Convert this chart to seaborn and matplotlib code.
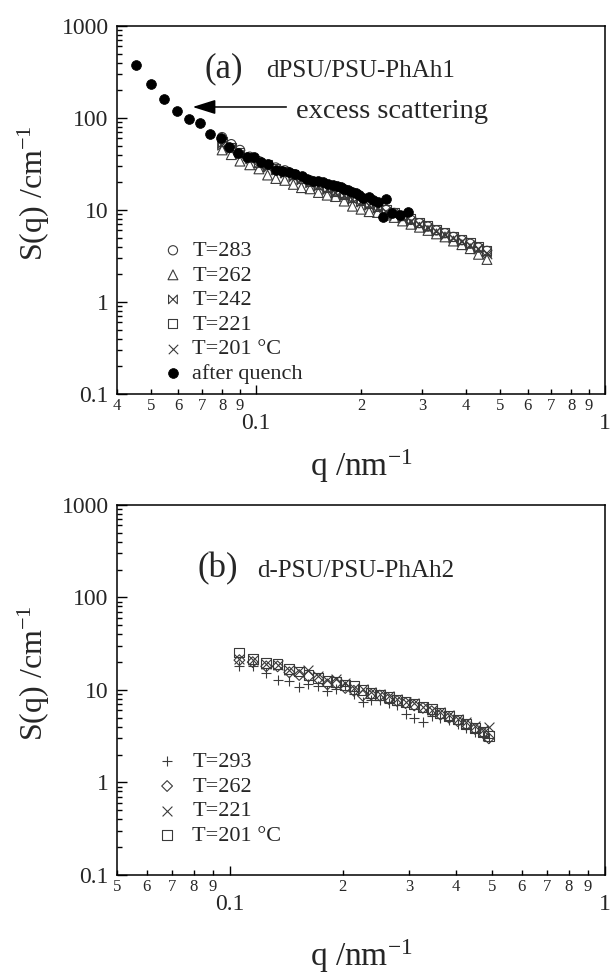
import numpy as np
import pandas as pd
import matplotlib
matplotlib.use("Agg")
import matplotlib.pyplot as plt
from matplotlib.path import Path
from matplotlib.ticker import FixedLocator, FixedFormatter, NullFormatter
import seaborn as sns

# ---------------- data: panel (a) ----------------
qa = [0.080, 0.085, 0.090, 0.096, 0.102, 0.108, 0.114, 0.121, 0.128, 0.135, 0.143,
      0.151, 0.160, 0.169, 0.179, 0.189, 0.200, 0.211, 0.223, 0.236, 0.249, 0.263,
      0.278, 0.294, 0.311, 0.329, 0.348, 0.368, 0.389, 0.411, 0.434, 0.459]
s283 = [62, 52, 45, 38, 34, 31, 29, 27, 24.5, 22, 21, 19, 17.5, 16.2, 15, 13.8, 12.8,
        11.8, 11, 10, 9.3, 8.6, 7.8, 7.2, 6.6, 6.0, 5.6, 5.1, 4.7, 4.3, 3.9, 3.6]
s262 = [45, 40, 34, 31, 28, 24, 22, 21, 19, 17.5, 17, 15.5, 14.5, 14, 12.5, 11, 10.2,
        9.6, 9.4, 8.8, 8.3, 7.6, 7.0, 6.5, 6.0, 5.5, 5.1, 4.6, 4.2, 3.8, 3.3, 2.9]
s242 = [50, 46, 40, 36, 32, 29, 27, 25, 23, 21, 19.5, 18, 16.5, 15.5, 14.2, 13, 12.2,
        11.2, 10.4, 9.6, 8.9, 8.1, 7.5, 6.9, 6.4, 5.8, 5.4, 4.9, 4.5, 4.1, 3.8, 3.4]
s221 = [56, 48, 42, 37, 33, 31, 28, 26, 24.5, 22, 20.5, 19, 17.5, 16, 14.8, 13.8, 12.6,
        11.7, 10.8, 10.2, 9.4, 8.7, 8.0, 7.3, 6.8, 6.2, 5.7, 5.2, 4.8, 4.4, 4.0, 3.6]
s201 = [53, 47, 41, 36, 31, 29, 27, 25, 23, 21.5, 20, 18.2, 17, 15.5, 14.4, 13.2, 12.2,
        11.3, 10.5, 9.6, 8.8, 8.2, 7.6, 7.0, 6.3, 5.9, 5.4, 5.0, 4.6, 4.2, 3.8, 3.3]
q_quench = [0.0452, 0.0500, 0.0547, 0.0596, 0.0644, 0.0692, 0.0741, 0.0796, 0.0840,
            0.0889, 0.0940, 0.0985, 0.1036, 0.1080, 0.1138, 0.1190, 0.1240, 0.1290,
            0.1356, 0.1405, 0.1455, 0.1505, 0.1560, 0.1610, 0.1660, 0.1705, 0.1750,
            0.1790, 0.1830, 0.1880, 0.1935, 0.1980, 0.2025, 0.2110, 0.2170, 0.2230,
            0.2310, 0.2360, 0.2460, 0.2580, 0.2720]
s_quench = [377, 234, 160, 119, 97, 89, 67, 60, 48.7, 41.3, 37.9, 37.4, 33.5, 31.6,
            27.2, 26.7, 26.0, 24.6, 23.4, 22.0, 20.8, 20.5, 20.1, 19.3, 18.7, 18.2,
            17.7, 17.0, 16.5, 15.8, 15.2, 14.5, 13.4, 13.7, 13.0, 12.3, 8.5, 13.1,
            9.2, 8.8, 9.6]
labels_a = ["T=283", "T=262", "T=242", "T=221", "T=201 °C", "after quench"]

# ---------------- data: panel (b) ----------------
qb = [0.106, 0.115, 0.125, 0.134, 0.144, 0.153, 0.162, 0.172, 0.182, 0.192, 0.203,
      0.214, 0.226, 0.238, 0.251, 0.265, 0.279, 0.294, 0.310, 0.327, 0.345, 0.364,
      0.384, 0.405, 0.427, 0.450, 0.474, 0.490]
b293 = [18.2, 18.0, 15.2, 12.8, 12.6, 10.8, 11.6, 11.0, 9.8, 10.2, 11.0, 9.0, 7.4, 7.8,
        7.8, 7.2, 6.8, 5.5, 5.0, 4.5, 5.2, 5.0, 4.7, 4.3, 3.9, 3.5, 3.2, 3.0]
b262 = [21.0, 20.0, 18.0, 18.0, 15.5, 14.5, 14.0, 13.2, 11.5, 11.8, 10.5, 9.8, 8.7, 8.9,
        8.7, 8.0, 7.6, 7.2, 6.8, 6.4, 5.9, 5.4, 5.0, 4.6, 4.2, 3.8, 3.4, 3.0]
b221 = [21.5, 21.0, 19.0, 18.5, 16.5, 16.0, 16.5, 14.0, 12.8, 13.0, 11.8, 10.6, 10.2,
        9.4, 9.0, 8.5, 8.0, 7.5, 7.2, 6.6, 6.0, 5.8, 5.4, 4.9, 4.5, 4.1, 3.7, 4.0]
b201 = [25.4, 21.5, 19.5, 19.2, 17.0, 15.8, 14.6, 13.6, 12.5, 12.3, 11.4, 11.0, 10.0,
        9.2, 8.8, 8.4, 7.8, 7.4, 7.0, 6.5, 6.2, 5.6, 5.2, 4.8, 4.3, 3.9, 3.5, 3.2]
labels_b = ["T=293", "T=262", "T=221", "T=201 °C"]

# ---------------- tick labels ----------------
y_major = [0.1, 1, 10, 100, 1000]
y_major_labels = ["0.1", "1", "10", "100", "1000"]
x_major = [0.1, 1]
x_major_labels = ["0.1", "1"]
xa_minor = [0.04, 0.05, 0.06, 0.07, 0.08, 0.09, 0.2, 0.3, 0.4, 0.5, 0.6, 0.7, 0.8, 0.9]
xa_minor_labels = ["4", "5", "6", "7", "8", "9", "2", "3", "4", "5", "6", "7", "8", "9"]
xb_minor = [0.05, 0.06, 0.07, 0.08, 0.09, 0.2, 0.3, 0.4, 0.5, 0.6, 0.7, 0.8, 0.9]
xb_minor_labels = ["5", "6", "7", "8", "9", "2", "3", "4", "5", "6", "7", "8", "9"]
y_minor = [m * 10.0 ** e for e in range(-1, 3) for m in range(2, 10)]

# ---------------- style ----------------
sns.set_style("ticks")
plt.rcParams['font.family'] = ['Liberation Serif', 'DejaVu Serif']
plt.rcParams['mathtext.fontset'] = 'custom'
plt.rcParams['mathtext.rm'] = 'Liberation Serif'
plt.rcParams['mathtext.it'] = 'Liberation Serif:italic'
plt.rcParams['mathtext.default'] = 'regular'

fig = plt.figure(figsize=(6.1, 9.75), dpi=100)
ax1 = fig.add_axes([0.1918, 0.5959, 0.80, 0.3774])
ax2 = fig.add_axes([0.1918, 0.1026, 0.80, 0.3795])

bowtie = Path([(-1, -1), (1, 1), (1, -1), (-1, 1), (-1, -1)],
              [Path.MOVETO, Path.LINETO, Path.LINETO, Path.LINETO, Path.CLOSEPOLY])

EC = "#3a3a3a"


def open_series(ax, q, s, marker, label, size=34):
    sns.scatterplot(x=q, y=s, ax=ax, marker=marker, s=size, facecolor="none",
                    edgecolor=EC, linewidth=0.8, label=label, zorder=3)
    return ax.collections[-1]


def line_series(ax, q, s, marker, label, size=40):
    sns.scatterplot(x=q, y=s, ax=ax, marker=marker, s=size, color=EC,
                    linewidth=0.8, label=label, zorder=3)
    return ax.collections[-1]


# ---- panel (a)
h = []
h.append(open_series(ax1, qa, s283, "o", labels_a[0], 44))
h.append(open_series(ax1, qa, s262, "^", labels_a[1], 50))
h.append(open_series(ax1, qa, s242, bowtie, labels_a[2], 40))
h.append(open_series(ax1, qa, s221, "s", labels_a[3], 42))
h.append(line_series(ax1, qa, s201, "x", labels_a[4], 46))
sns.scatterplot(x=q_quench, y=s_quench, ax=ax1, marker="o", s=50, color="black",
                edgecolor="black", linewidth=0.5, label=labels_a[5], zorder=4)
h.append(ax1.collections[-1])

# ---- panel (b)
g = []
g.append(line_series(ax2, qb, b293, "+", labels_b[0], 60))
g.append(open_series(ax2, qb, b262, "D", labels_b[1], 30))
g.append(line_series(ax2, qb, b221, "x", labels_b[2], 50))
g.append(open_series(ax2, qb, b201, "s", labels_b[3], 50))

for ax, xlim, xmin, xminl in ((ax1, (0.04, 1.0), xa_minor, xa_minor_labels),
                              (ax2, (0.05, 1.0), xb_minor, xb_minor_labels)):
    ax.set_xscale("log")
    ax.set_yscale("log")
    ax.set_xlim(*xlim)
    ax.set_ylim(0.1, 1000)
    ax.xaxis.set_major_locator(FixedLocator(x_major))
    ax.xaxis.set_major_formatter(FixedFormatter(x_major_labels))
    ax.xaxis.set_minor_locator(FixedLocator(xmin))
    ax.xaxis.set_minor_formatter(FixedFormatter(xminl))
    ax.yaxis.set_major_locator(FixedLocator(y_major))
    ax.yaxis.set_major_formatter(FixedFormatter(y_major_labels))
    ax.yaxis.set_minor_locator(FixedLocator(y_minor))
    ax.yaxis.set_minor_formatter(NullFormatter())
    ax.tick_params(axis="x", which="major", direction="in", length=6.5, width=1.0,
                   pad=14, labelsize=17, top=False, color="black")
    ax.tick_params(axis="x", which="minor", direction="in", length=3.6, width=1.0,
                   pad=3.0, labelsize=12, top=False, color="black")
    ax.tick_params(axis="y", which="major", direction="in", length=7, width=1.0,
                   pad=6, labelsize=17, right=False, color="black")
    ax.tick_params(axis="y", which="minor", direction="in", length=3.6, width=1.0,
                   right=False, color="black")
    for sp in ax.spines.values():
        sp.set_color("black")
        sp.set_linewidth(1.1)
        sp.set_visible(True)
    ax.set_ylabel("S(q) /cm$^{-1}$", fontsize=23)
    ax.yaxis.set_label_coords(-0.133, 0.545)
    ax.set_xlabel("q /nm$^{-1}$", fontsize=24)

ax1.xaxis.set_label_coords(0.5, -0.145)
ax2.xaxis.set_label_coords(0.5, -0.168)

# legends
ax1.legend(handles=h, labels=labels_a, loc="upper left", bbox_to_anchor=(0.101, 0.417),
           frameon=False, fontsize=16, handlelength=0.6, handletextpad=0.57,
           labelspacing=0.18, borderaxespad=0, borderpad=0)
ax2.legend(handles=g, labels=labels_b, loc="upper left", bbox_to_anchor=(0.089, 0.333),
           frameon=False, fontsize=16, handlelength=0.6, handletextpad=0.84,
           labelspacing=0.18, borderaxespad=0, borderpad=0)

# annotations
ax1.text(0.18, 0.861, "(a)", transform=ax1.transAxes, fontsize=25, va="baseline", ha="left")
ax1.text(0.306, 0.861, "dPSU/PSU-PhAh1", transform=ax1.transAxes, fontsize=18,
         va="baseline", ha="left")
ax1.text(0.367, 0.75, "excess scattering", transform=ax1.transAxes, fontsize=20.5,
         va="baseline", ha="left")
ax1.annotate("", xy=(0.155, 0.78), xytext=(0.347, 0.78), xycoords="axes fraction",
             textcoords="axes fraction",
             arrowprops=dict(arrowstyle="-|>,head_length=0.7,head_width=0.22",
                             mutation_scale=20, lw=1.1, color="black",
                             shrinkA=0, shrinkB=0))
ax2.text(0.164, 0.805, "(b)", transform=ax2.transAxes, fontsize=25, va="baseline", ha="left")
ax2.text(0.287, 0.805, "d-PSU/PSU-PhAh2", transform=ax2.transAxes, fontsize=18,
         va="baseline", ha="left")

fig.savefig("out.png", dpi=100)
